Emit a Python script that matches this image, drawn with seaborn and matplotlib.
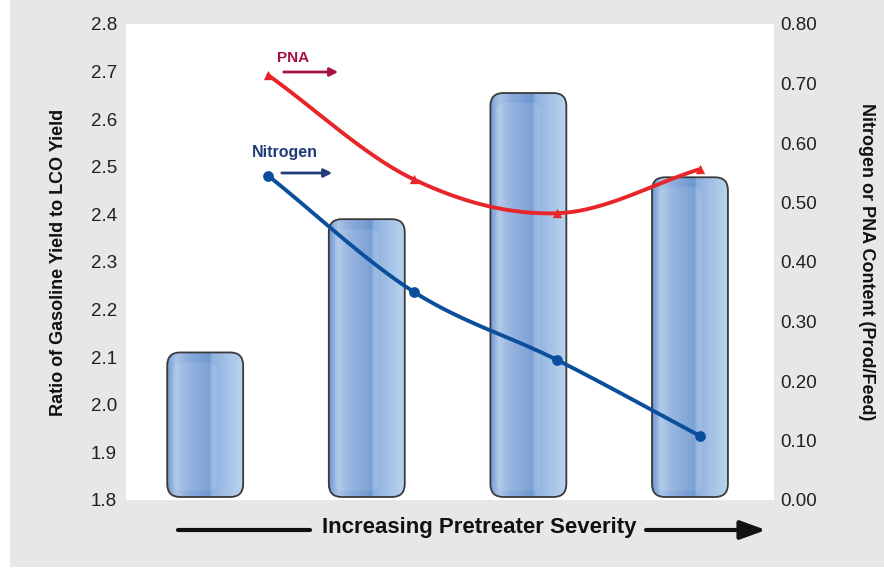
import numpy as np
import pandas as pd
import seaborn as sns
import matplotlib
matplotlib.use("Agg")
import matplotlib.pyplot as plt
from matplotlib.patches import FancyBboxPatch, Rectangle, FancyArrowPatch
from matplotlib.lines import Line2D
from matplotlib.colors import to_rgb

# ---- data -------------------------------------------------------------
severity = ["Level 1", "Level 2", "Level 3", "Level 4"]
gasoline_lco_ratio = [2.11, 2.39, 2.655, 2.478]

# positions of the measured samples along the severity axis
sample_pos = [0.39, 1.29, 2.18, 3.06]
nitrogen = [0.545, 0.350, 0.235, 0.108]
pna = [0.714, 0.539, 0.482, 0.556]

left_ticks = [1.8, 1.9, 2.0, 2.1, 2.2, 2.3, 2.4, 2.5, 2.6, 2.7, 2.8]
right_ticks = [0.0, 0.1, 0.2, 0.3, 0.4, 0.5, 0.6, 0.7, 0.8]

# ---- style ------------------------------------------------------------
sns.set_theme(style="white")
plt.rcParams["font.family"] = ["Liberation Sans", "DejaVu Sans"]
BG = "#e6e7e8"
RED = "#e8262a"
BLUE = "#0b4f9c"
PNA_TXT = "#a5123f"
NIT_TXT = "#203c7a"

W, H = 884, 568
fig = plt.figure(figsize=(W / 100, H / 100), dpi=100)
fig.patch.set_facecolor("white")
fig.add_artist(Rectangle((10 / W, 1 - 567 / H), 1, 567 / H,
                         transform=fig.transFigure, facecolor=BG,
                         edgecolor="none", zorder=-10))

ax = fig.add_axes([126 / W, 1 - 500 / H, (774 - 126) / W, (500 - 24) / H])
ax.set_facecolor("white")

df = pd.DataFrame({"severity": severity, "ratio": gasoline_lco_ratio})
sns.barplot(data=df, x="severity", y="ratio", ax=ax, width=0.47,
            color="#8fb0de", saturation=1)

XLIM = (-0.49, 3.52)
YLIM = (1.8, 2.8)
ax.set_xlim(*XLIM)
ax.set_ylim(*YLIM)

# glossy rounded bars replacing the plain rectangles
ax_w_px = 774 - 126
ax_h_px = 500 - 24
x_per_px = (XLIM[1] - XLIM[0]) / ax_w_px
y_per_px = (YLIM[1] - YLIM[0]) / ax_h_px
aspect = y_per_px / x_per_px

stops = [0.0, 0.05, 0.12, 0.26, 0.56, 0.59, 0.78, 1.0]
cols = ["#6d96cd", "#8aacdc", "#aac4e8", "#8eaedd", "#6d98d0",
        "#8db0de", "#a2c1e6", "#bad4ee"]
cols_rgb = np.array([to_rgb(c) for c in cols])
xs = np.linspace(0, 1, 200)
grad = np.stack([np.interp(xs, stops, cols_rgb[:, k]) for k in range(3)], axis=-1)[None, :, :]

for rect in list(ax.patches):
    x0 = rect.get_x()
    w = rect.get_width()
    top = rect.get_y() + rect.get_height()
    y0 = YLIM[0] + 3 * y_per_px
    rect.set_visible(False)
    patch = FancyBboxPatch((x0, y0), w, top - y0,
                           boxstyle=f"round,pad=0,rounding_size={13 * x_per_px}",
                           mutation_aspect=aspect, facecolor="none",
                           edgecolor="#3a3a3a", linewidth=1.3, zorder=3)
    ax.add_patch(patch)
    im = ax.imshow(grad, extent=(x0, x0 + w, y0, top), aspect="auto",
                   zorder=2, interpolation="bilinear")
    im.set_clip_path(patch)
    # soft inner panel
    inner = FancyBboxPatch((x0 + 6 * x_per_px, y0 + 6 * y_per_px),
                           w * 0.58, top - y0 - 16 * y_per_px,
                           boxstyle=f"round,pad=0,rounding_size={9 * x_per_px}",
                           mutation_aspect=aspect, facecolor="white",
                           alpha=0.10, edgecolor="none", zorder=2.5)
    ax.add_patch(inner)

ax.set_xlim(*XLIM)
ax.set_ylim(*YLIM)
ax.set_xlabel("")
ax.set_xticks([])
ax.set_yticks(left_ticks)
ax.set_yticklabels([f"{v:.1f}" for v in left_ticks], fontsize=13.5,
                   color="#231f20")
ax.tick_params(axis="y", length=0, pad=6.5)
for s in ax.spines.values():
    s.set_visible(False)
ax.set_ylabel("Ratio of Gasoline Yield to LCO Yield", fontsize=13,
              fontweight="bold", color="#111111", labelpad=17)

# ---- secondary axis: nitrogen and PNA ---------------------------------
ax2 = ax.twinx()
ax2.set_ylim(0, 0.8)
ax2.set_xlim(*XLIM)
for s in ax2.spines.values():
    s.set_visible(False)


def smooth(xv, yv, n=40):
    """Catmull-Rom curve through the given points."""
    xv = np.asarray(xv, float)
    yv = np.asarray(yv, float)
    px = np.concatenate([[2 * xv[0] - xv[1]], xv, [2 * xv[-1] - xv[-2]]])
    py = np.concatenate([[2 * yv[0] - yv[1]], yv, [2 * yv[-1] - yv[-2]]])
    ox, oy = [], []
    t = np.linspace(0, 1, n)
    for i in range(1, len(px) - 2):
        for arr, out in ((px, ox), (py, oy)):
            p0, p1, p2, p3 = arr[i - 1], arr[i], arr[i + 1], arr[i + 2]
            out.extend(0.5 * ((2 * p1) + (-p0 + p2) * t
                              + (2 * p0 - 5 * p1 + 4 * p2 - p3) * t ** 2
                              + (-p0 + 3 * p1 - 3 * p2 + p3) * t ** 3))
    return np.array(ox), np.array(oy)


cx, cy = smooth(sample_pos, pna)
ax2.plot(cx, cy, color=RED, lw=2.8, solid_capstyle="round", zorder=5)
cx, cy = smooth(sample_pos, nitrogen)
ax2.plot(cx, cy, color=BLUE, lw=2.8, solid_capstyle="round", zorder=5)

sns.scatterplot(x=sample_pos, y=pna, ax=ax2, marker="^", s=45,
                color=RED, edgecolor=RED, linewidth=0, zorder=6)
sns.scatterplot(x=sample_pos, y=nitrogen, ax=ax2, marker="o", s=60,
                color=BLUE, edgecolor=BLUE, linewidth=0, zorder=6)

ax2.set_yticks(right_ticks)
ax2.set_yticklabels([f"{v:.2f}" for v in right_ticks], fontsize=13.5,
                    color="#231f20")
ax2.tick_params(axis="y", length=0, pad=4.5)
ax2.set_ylabel("Nitrogen or PNA Content (Prod/Feed)", fontsize=13,
               fontweight="bold", color="#111111", rotation=270, labelpad=42)
ax2.set_xlim(*XLIM)


def fig_xy(px, py):
    return px / W, 1 - py / H


# series labels with direction arrows
fig.text(*fig_xy(293, 58), "PNA", color=PNA_TXT, fontsize=11,
         fontweight="bold", ha="center", va="center")
fig.add_artist(FancyArrowPatch(fig_xy(281, 72), fig_xy(341, 72),
                               transform=fig.transFigure, arrowstyle="-|>",
                               mutation_scale=12, color=PNA_TXT, lw=2))
fig.text(*fig_xy(285, 153), "Nitrogen", color=NIT_TXT, fontsize=11.5,
         fontweight="bold", ha="center", va="center")
fig.add_artist(FancyArrowPatch(fig_xy(279, 173), fig_xy(335, 173),
                               transform=fig.transFigure, arrowstyle="-|>",
                               mutation_scale=12, color=NIT_TXT, lw=2))

# severity direction along the bottom
fig.text(*fig_xy(479, 528), "Increasing Pretreater Severity", color="#111111",
         fontsize=16, fontweight="bold", ha="center", va="center")
fig.add_artist(Line2D([178 / W, 310 / W], [1 - 530 / H] * 2,
                      transform=fig.transFigure, color="#111111", lw=3))
fig.add_artist(FancyArrowPatch(fig_xy(646, 530), fig_xy(766, 530),
                               transform=fig.transFigure,
                               arrowstyle="-|>,head_length=0.55,head_width=0.2",
                               mutation_scale=28, color="#111111", lw=3,
                               shrinkA=0, shrinkB=0))

fig.savefig("out.png", dpi=100, facecolor=fig.get_facecolor())
